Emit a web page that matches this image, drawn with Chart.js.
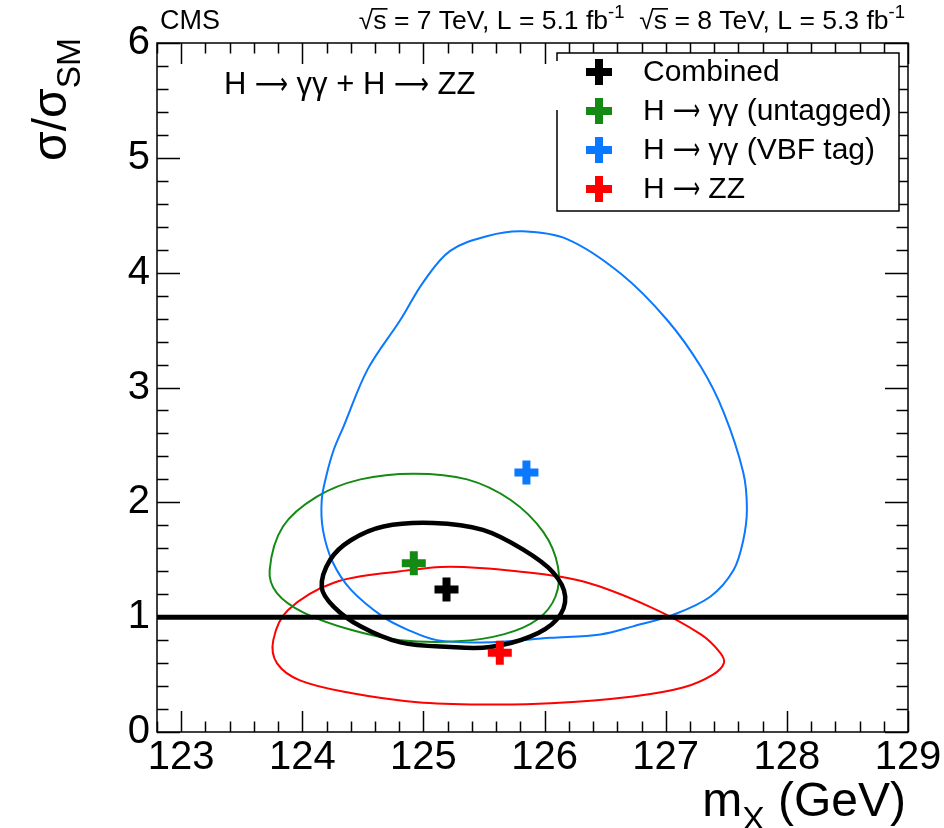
<!DOCTYPE html>
<html>
<head>
<meta charset="utf-8">
<script src="https://cdn.jsdelivr.net/npm/chart.js@4.4.1/dist/chart.umd.min.js"></script>
<style>
  html, body { margin: 0; padding: 0; background: #fff; }
  #chart { display: block; }
</style>
</head>
<body>
<canvas id="chart" width="944" height="828"></canvas>
<script>
// axis ranges and tick labels
const massRange = [122.8, 129];
const muRange = [0, 6];
const massTicks = [123, 124, 125, 126, 127, 128, 129];
const muTicks = [0, 1, 2, 3, 4, 5, 6];

// best fit points (mass in GeV, sigma/sigma_SM)
const seriesNames = ['Combined', 'H \u2192 \u03b3\u03b3 (untagged)', 'H \u2192 \u03b3\u03b3 (VBF tag)', 'H \u2192 ZZ'];
const seriesColors = ['#000000', '#148a14', '#0a78ff', '#ff0000'];
const bestFitMass = [125.19, 124.92, 125.85, 125.63];
const bestFitMu = [1.24, 1.47, 2.26, 0.69];

// 68% CL contours
const combinedMass = [124.16, 124.23, 124.40, 124.67, 125.08, 125.49, 125.82, 126.07, 126.17, 126.10, 125.88, 125.55, 125.22, 124.81, 124.48, 124.26];
const combinedMu   = [1.26, 1.50, 1.67, 1.79, 1.82, 1.76, 1.59, 1.39, 1.18, 0.98, 0.83, 0.74, 0.74, 0.78, 0.92, 1.09];

const untaggedMass = [123.73, 123.84, 124.12, 124.48, 124.92, 125.36, 125.72, 125.99, 126.11, 126.09, 125.94, 125.66, 125.28, 124.81, 124.40, 124.01, 123.79];
const untaggedMu   = [1.41, 1.79, 2.05, 2.20, 2.25, 2.20, 2.02, 1.74, 1.44, 1.18, 0.98, 0.85, 0.79, 0.80, 0.89, 1.04, 1.21];

const vbfMass = [125.82, 126.19, 126.63, 127.01, 127.29, 127.48, 127.64, 127.67, 127.64, 127.56, 127.37, 127.06, 126.73, 126.46, 126.05, 125.49, 125.11, 124.87, 124.67, 124.40, 124.25, 124.17, 124.16, 124.20, 124.26, 124.34, 124.54, 124.81, 125.00, 125.22, 125.53];
const vbfMu   = [4.36, 4.29, 3.99, 3.59, 3.18, 2.78, 2.26, 1.94, 1.67, 1.41, 1.18, 1.02, 0.92, 0.85, 0.82, 0.78, 0.80, 0.89, 1.00, 1.24, 1.48, 1.76, 2.02, 2.24, 2.46, 2.66, 3.16, 3.59, 3.92, 4.19, 4.32];

const zzMass = [123.76, 123.88, 124.26, 124.81, 125.22, 125.77, 126.32, 126.87, 127.29, 127.45, 127.48, 127.39, 127.15, 126.73, 126.05, 125.49, 124.95, 124.40, 123.98, 123.79];
const zzMu   = [0.80, 1.06, 1.30, 1.40, 1.44, 1.40, 1.31, 1.09, 0.85, 0.69, 0.60, 0.50, 0.39, 0.31, 0.25, 0.24, 0.26, 0.34, 0.45, 0.60];

// SM expectation
const smLevel = 1;

const FONT = "'Liberation Sans', Arial, sans-serif";
const NARROW = "'Liberation Sans Narrow', 'Liberation Sans', Arial, sans-serif";
const ARROW_FONT = "'DejaVu Sans', sans-serif";

// wrap the contour so every visible piece has neighbours on both sides,
// the two extra end pieces are made transparent below
function closedLoop(xs, ys) {
    const n = xs.length;
    const pts = [{ x: xs[n - 1], y: ys[n - 1] }];
    xs.forEach((x, i) => pts.push({ x: x, y: ys[i] }));
    pts.push({ x: xs[0], y: ys[0] }, { x: xs[1], y: ys[1] });
    return pts;
}

function contourSet(label, xs, ys, color, width, order) {
    const data = closedLoop(xs, ys);
    const last = data.length - 1;
    return {
        label: label,
        data: data,
        showLine: true,
        borderColor: color,
        borderWidth: width,
        pointRadius: 0,
        tension: 0.35,
        fill: false,
        order: order,
        segment: {
            borderColor: c => (c.p0DataIndex === 0 || c.p1DataIndex === last) ? 'rgba(0,0,0,0)' : color
        }
    };
}

const datasets = [
    contourSet('vbf', vbfMass, vbfMu, seriesColors[2], 2, 4),
    contourSet('untagged', untaggedMass, untaggedMu, seriesColors[1], 2, 4),
    contourSet('zz', zzMass, zzMu, seriesColors[3], 2, 4),
    {
        label: 'SM',
        data: [{ x: massRange[0], y: smLevel }, { x: massRange[1], y: smLevel }],
        showLine: true,
        borderColor: '#000',
        borderWidth: 5,
        pointRadius: 0,
        order: 2
    },
    contourSet('combined', combinedMass, combinedMu, seriesColors[0], 4.5, 1)
];

// best fit crosses on top
seriesNames.forEach((name, i) => {
    datasets.push({
        label: name,
        data: [{ x: bestFitMass[i], y: bestFitMu[i] }],
        pointStyle: 'cross',
        pointRadius: 12,
        pointBorderWidth: 8,
        borderColor: seriesColors[i],
        backgroundColor: seriesColors[i],
        order: 0
    });
});

// frame with ROOT style inward ticks on all four sides
const framePlugin = {
    id: 'frame',
    beforeDatasetsDraw(chart) {
        const ctx = chart.ctx;
        const a = chart.chartArea;
        const xs = chart.scales.x, ys = chart.scales.y;
        ctx.save();
        ctx.strokeStyle = '#000';
        ctx.lineWidth = 1.5;
        ctx.strokeRect(a.left, a.top, a.right - a.left, a.bottom - a.top);

        ctx.beginPath();
        // x ticks, 5 divisions per unit
        for (let v = Math.round(massRange[0] * 5); v <= Math.round(massRange[1] * 5); v++) {
            const px = Math.round(xs.getPixelForValue(v / 5)) + 0.5;
            const len = (v % 5 === 0) ? 21 : 10.5;
            ctx.moveTo(px, a.bottom); ctx.lineTo(px, a.bottom - len);
            ctx.moveTo(px, a.top); ctx.lineTo(px, a.top + len);
        }
        // y ticks, 5 divisions per unit
        for (let v = muRange[0] * 5; v <= muRange[1] * 5; v++) {
            const py = Math.round(ys.getPixelForValue(v / 5)) + 0.5;
            const len = (v % 5 === 0) ? 23 : 11.5;
            ctx.moveTo(a.left, py); ctx.lineTo(a.left + len, py);
            ctx.moveTo(a.right, py); ctx.lineTo(a.right - len, py);
        }
        ctx.stroke();
        ctx.restore();
    }
};

// draws a run of text pieces: normal, superscript, subscript, overlined,
// or squeezed/stretched to a given width (long arrows)
function drawRich(ctx, pieces, x, y, size, family, measureOnly) {
    let cx = x;
    pieces.forEach(p => {
        const s = p.sup || p.sub ? size * 0.7 : size;
        ctx.font = s + 'px ' + (p.font || family || FONT);
        const dy = p.sup ? -size * 0.42 : (p.sub ? size * 0.3 : 0);
        const nat = ctx.measureText(p.t).width;
        const w = p.w || nat;
        if (!measureOnly) {
            if (p.w) {
                ctx.save();
                ctx.translate(cx, y + dy);
                ctx.scale(p.w / nat, 1);
                ctx.fillText(p.t, 0, 0);
                ctx.restore();
            } else {
                ctx.fillText(p.t, cx, y + dy);
            }
            if (p.over) {
                ctx.save();
                ctx.lineWidth = Math.max(1, size / 16);
                ctx.beginPath();
                ctx.moveTo(cx - 1, y - size * 0.76);
                ctx.lineTo(cx + w + 1, y - size * 0.76);
                ctx.stroke();
                ctx.restore();
            }
        }
        cx += w;
    });
    return cx - x;
}

// long thin arrow as used in ROOT's #rightarrow
function arrow(w) {
    return { t: '\u27f6', w: w, font: ARROW_FONT };
}

const textPlugin = {
    id: 'texts',
    afterDraw(chart) {
        const ctx = chart.ctx;
        const a = chart.chartArea;
        ctx.save();
        ctx.fillStyle = '#000';
        ctx.strokeStyle = '#000';
        ctx.textBaseline = 'alphabetic';
        ctx.textAlign = 'left';

        // header
        drawRich(ctx, [{ t: 'CMS' }], a.left + 3, 29, 27, NARROW);
        const lumi = [
            { t: '\u221a' }, { t: 's', over: true }, { t: ' = 7 TeV, L = 5.1 fb' }, { t: '-1', sup: true },
            { t: '  \u221a' }, { t: 's', over: true }, { t: ' = 8 TeV, L = 5.3 fb' }, { t: '-1', sup: true }
        ];
        const lw = drawRich(ctx, lumi, 0, 0, 26.5, NARROW, true);
        drawRich(ctx, lumi, a.right - 3 - lw, 29, 26.5, NARROW);

        // channel label inside the frame
        const chan = [{ t: 'H ' }, arrow(33), { t: ' \u03b3\u03b3 + H ' }, arrow(35), { t: ' ZZ' }];
        drawRich(ctx, chan, 224, 94, 31);

        // axis titles
        const xt = [{ t: 'm' }, { t: 'X', sub: true }, { t: ' (GeV)' }];
        const xw = drawRich(ctx, xt, 0, 0, 48, FONT, true);
        drawRich(ctx, xt, a.right - 2 - xw, 816, 48);

        ctx.save();
        ctx.translate(66, a.top - 5);
        ctx.rotate(-Math.PI / 2);
        const yt = [{ t: '\u03c3/\u03c3' }, { t: 'SM', sub: true }];
        const yw = drawRich(ctx, yt, 0, 0, 48, FONT, true);
        drawRich(ctx, yt, -yw, 0, 48);
        ctx.restore();

        // legend box
        const bx = 557, by = 53, bw = 342, bh = 158;
        ctx.fillStyle = '#fff';
        ctx.fillRect(bx, by, bw, bh);
        ctx.lineWidth = 1.5;
        ctx.beginPath();
        ctx.moveTo(bx, by + 8); ctx.lineTo(bx, by); ctx.lineTo(bx + bw, by);
        ctx.lineTo(bx + bw, by + bh); ctx.lineTo(bx, by + bh); ctx.lineTo(bx, by + 57);
        ctx.stroke();

        const legendText = [
            [{ t: 'Combined' }],
            [{ t: 'H ' }, arrow(27), { t: ' \u03b3\u03b3 (untagged)' }],
            [{ t: 'H ' }, arrow(27), { t: ' \u03b3\u03b3 (VBF tag)' }],
            [{ t: 'H ' }, arrow(27), { t: ' ZZ' }]
        ];
        ctx.textBaseline = 'middle';
        seriesNames.forEach((name, i) => {
            const cy = 72 + i * 39;
            ctx.fillStyle = seriesColors[i];
            ctx.fillRect(599 - 13, cy - 4, 26, 8);
            ctx.fillRect(599 - 4, cy - 13, 8, 26);
            ctx.fillStyle = '#000';
            drawRich(ctx, legendText[i], 643, cy + 1, 30);
        });
        ctx.restore();
    }
};

new Chart(document.getElementById('chart'), {
    type: 'scatter',
    data: { datasets: datasets },
    options: {
        responsive: false,
        animation: false,
        devicePixelRatio: 1,
        layout: { padding: { top: 43, right: 36, left: 0, bottom: 0 } },
        plugins: {
            legend: { display: false },
            tooltip: { enabled: false },
            title: { display: false }
        },
        scales: {
            x: {
                type: 'linear',
                min: massRange[0],
                max: massRange[1],
                afterBuildTicks: s => { s.ticks = massTicks.map(v => ({ value: v })); },
                afterFit: s => { s.height = 96; s.paddingLeft = 0; s.paddingRight = 0; },
                grid: { display: false, drawTicks: false },
                border: { display: false },
                ticks: {
                    color: '#000',
                    font: { family: FONT, size: 40 },
                    padding: 2,
                    maxRotation: 0,
                    autoSkip: false
                }
            },
            y: {
                type: 'linear',
                min: muRange[0],
                max: muRange[1],
                afterBuildTicks: s => { s.ticks = muTicks.map(v => ({ value: v })); },
                afterFit: s => { s.width = 157; s.paddingTop = 0; s.paddingBottom = 0; },
                grid: { display: false, drawTicks: false },
                border: { display: false },
                ticks: {
                    color: '#000',
                    font: { family: FONT, size: 40 },
                    padding: 7,
                    autoSkip: false
                }
            }
        }
    },
    plugins: [framePlugin, textPlugin]
});
</script>
</body>
</html>
